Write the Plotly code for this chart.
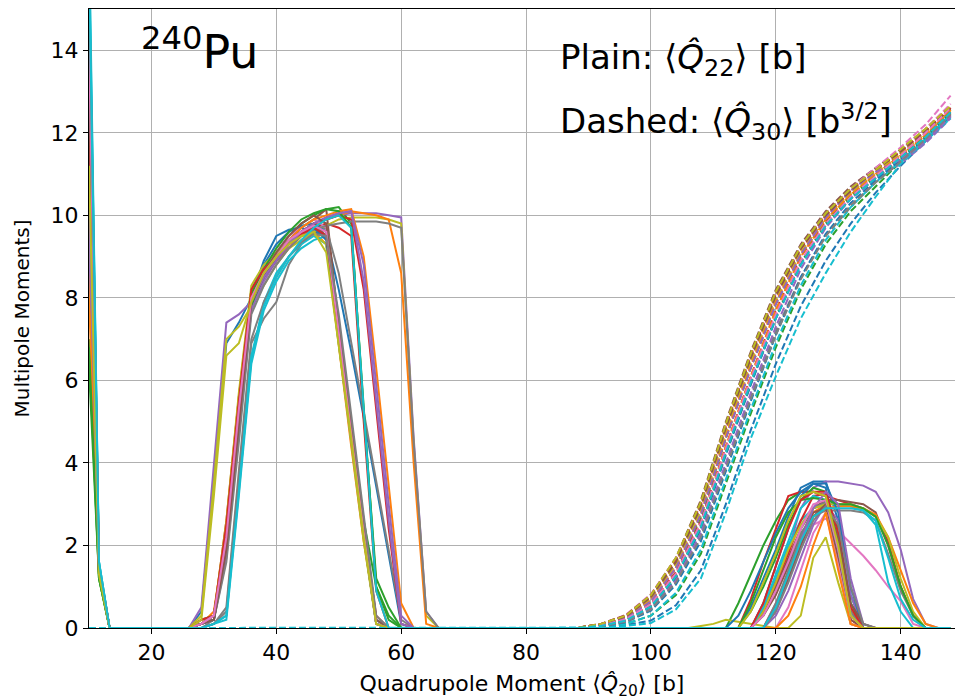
import plotly.graph_objects as go

# matplotlib "tab10" colour cycle
TAB10 = ["#1f77b4", "#ff7f0e", "#2ca02c", "#d62728", "#9467bd",
         "#8c564b", "#e377c2", "#7f7f7f", "#bcbd22", "#17becf"]

# Q20 grids [b]
Q20_EDGE = [10.0, 11.6, 13.3]
Q20_HUMP1 = [26, 28, 30, 32, 34, 36, 38, 40, 42, 44, 46, 48, 50, 52, 54, 56, 58, 60, 62, 64, 66]
Q20_HUMP2 = [106, 108, 110, 112, 114, 116, 118, 120, 122, 124, 126, 128, 130, 132, 134, 136,
             138, 140, 142, 144, 146, 148]
Q20_OCT = [10, 88, 92, 96, 100, 104, 108, 112, 116, 120, 124, 128, 132, 136, 140, 144, 148]

# <Q22> [b] near the spherical end (Q20 = 10, 11.6, 13.3)
Q22_EDGE = [
    [16.0, 1.4, 0], [8.5, 1.3, 0], [6.3, 1.2, 0], [12.0, 1.5, 0], [10.0, 1.4, 0],
    [14.0, 1.4, 0], [13.0, 1.5, 0], [15.5, 1.5, 0], [11.0, 1.3, 0], [17.0, 1.6, 0],
    [13.5, 1.4, 0], [9.0, 1.3, 0], [7.0, 1.2, 0], [11.5, 1.4, 0], [9.5, 1.4, 0],
    [12.5, 1.4, 0], [14.5, 1.5, 0], [15.0, 1.5, 0], [10.5, 1.3, 0], [16.5, 1.6, 0],
    [14.0, 1.4, 0], [8.0, 1.3, 0], [6.8, 1.2, 0], [12.8, 1.5, 0], [10.2, 1.4, 0],
    [13.2, 1.4, 0], [14.2, 1.5, 0], [15.8, 1.5, 0], [11.2, 1.3, 0], [16.2, 1.6, 0],
]

# <Q22> [b] over the first barrier region (Q20 = 26 ... 66)
Q22_HUMP1 = [
    [0, 0.4, 3.6, 6.9, 7.4, 8.0, 8.9, 9.5, 9.65, 9.7, 9.6, 9.5, 8.2, 6.7, 5.1, 3.4, 1.7, 0.1, 0, 0, 0],
    [0, 0.1, 0.4, 2.4, 5.4, 8.1, 8.6, 9.0, 9.3, 9.5, 9.6, 9.3, 6.8, 4.4, 2.1, 0.2, 0, 0, 0, 0, 0],
    [0, 0.2, 0.3, 2.2, 5.1, 8.0, 8.7, 9.1, 9.5, 9.8, 10.0, 10.15, 10.2, 9.8, 5.2, 1.2, 0.5, 0, 0, 0, 0],
    [0, 0.1, 0.3, 2.6, 5.6, 8.1, 8.6, 8.9, 9.2, 9.5, 9.7, 9.8, 9.7, 9.5, 5.0, 0.9, 0, 0, 0, 0, 0],
    [0, 0.5, 4.0, 7.4, 7.6, 7.9, 8.5, 8.9, 9.3, 9.6, 9.8, 9.9, 10.0, 10.05, 10.05, 10.05, 10.0, 9.95, 4.6, 0.4, 0],
    [0, 0.1, 0.2, 1.8, 4.8, 7.8, 8.5, 9.0, 9.4, 9.7, 9.9, 10.15, 7.3, 4.8, 2.4, 0.1, 0, 0, 0, 0, 0],
    [0, 0.1, 0.3, 2.1, 5.2, 8.0, 8.6, 9.1, 9.4, 9.6, 9.8, 9.6, 7.0, 4.6, 2.2, 0.1, 0, 0, 0, 0, 0],
    [0, 0, 0.1, 0.4, 3.6, 6.9, 7.5, 7.9, 8.8, 9.3, 9.6, 9.7, 8.6, 6.9, 5.3, 3.6, 1.9, 0.2, 0, 0, 0],
    [0, 0.3, 3.5, 7.0, 7.3, 7.8, 8.3, 8.8, 9.2, 9.4, 9.6, 9.75, 9.9, 9.95, 9.95, 9.95, 9.9, 9.8, 4.4, 0.3, 0],
    [0, 0, 0.1, 0.3, 3.4, 6.5, 7.9, 8.6, 9.0, 9.3, 9.5, 9.3, 6.9, 4.5, 2.2, 0.1, 0, 0, 0, 0, 0],
    [0, 0.1, 0.2, 2.3, 5.5, 8.2, 8.8, 9.3, 9.6, 9.75, 9.8, 9.6, 7.2, 4.8, 2.4, 0.2, 0, 0, 0, 0, 0],
    [0, 0.1, 0.3, 2.5, 5.6, 8.2, 8.6, 9.0, 9.3, 9.6, 9.8, 9.9, 10.0, 10.1, 10.05, 10.0, 9.9, 8.6, 4.0, 0.1, 0],
    [0, 0.1, 0.2, 1.9, 4.9, 7.8, 8.5, 9.0, 9.4, 9.7, 9.9, 9.7, 7.4, 5.0, 2.6, 1.0, 0.3, 0, 0, 0, 0],
    [0, 0.1, 0.3, 2.2, 5.2, 8.0, 8.6, 9.0, 9.3, 9.6, 9.8, 9.9, 10.0, 9.9, 8.2, 5.3, 2.4, 0.1, 0, 0, 0],
    [0, 0.1, 0.2, 1.7, 4.7, 7.7, 8.4, 8.9, 9.3, 9.6, 9.8, 9.95, 10.05, 10.1, 8.4, 5.5, 2.6, 0.1, 0, 0, 0],
    [0, 0.1, 0.2, 2.0, 5.0, 7.9, 8.5, 8.9, 9.3, 9.6, 9.8, 9.5, 7.0, 4.6, 2.2, 0.1, 0, 0, 0, 0, 0],
    [0, 0.1, 0.3, 2.4, 5.4, 8.1, 8.7, 9.1, 9.5, 9.7, 9.9, 9.7, 7.3, 4.9, 2.5, 0.2, 0, 0, 0, 0, 0],
    [0, 0, 0.2, 1.6, 4.5, 7.6, 8.3, 8.8, 9.2, 9.5, 9.65, 9.75, 9.8, 9.85, 9.85, 9.85, 9.8, 9.7, 4.5, 0.4, 0],
    [0, 0.1, 0.3, 2.6, 5.7, 8.3, 8.8, 9.1, 9.35, 9.5, 9.55, 9.3, 6.9, 4.5, 2.1, 0.1, 0, 0, 0, 0, 0],
    [0, 0, 0.1, 0.2, 3.2, 6.4, 7.7, 8.4, 8.9, 9.2, 9.4, 9.5, 7.4, 4.9, 2.5, 0.2, 0, 0, 0, 0, 0],
    [0, 0.1, 0.2, 2.1, 5.2, 8.0, 8.6, 9.0, 9.4, 9.6, 9.7, 9.4, 7.0, 4.6, 2.3, 0.1, 0, 0, 0, 0, 0],
    [0, 0.1, 0.3, 2.3, 5.3, 8.1, 8.6, 9.0, 9.4, 9.7, 9.9, 10.0, 10.1, 10.15, 9.0, 6.3, 3.4, 0.6, 0, 0, 0],
    [0, 0.1, 0.3, 2.4, 5.4, 8.1, 8.7, 9.2, 9.6, 9.9, 10.05, 10.15, 10.1, 9.7, 5.4, 1.0, 0.2, 0, 0, 0, 0],
    [0, 0.2, 0.3, 2.5, 5.5, 8.2, 8.7, 9.0, 9.3, 9.55, 9.7, 9.5, 7.2, 4.8, 2.4, 0.3, 0, 0, 0, 0, 0],
    [0, 0.1, 0.3, 2.0, 5.0, 7.9, 8.5, 8.9, 9.3, 9.6, 9.8, 9.95, 10.05, 10.1, 8.8, 5.9, 3.0, 0.3, 0, 0, 0],
    [0, 0.1, 0.2, 1.9, 4.9, 7.9, 8.6, 9.1, 9.5, 9.8, 10.0, 9.8, 7.4, 5.0, 2.6, 0.2, 0, 0, 0, 0, 0],
    [0, 0.1, 0.3, 2.2, 5.3, 8.0, 8.6, 9.0, 9.4, 9.6, 9.75, 9.6, 7.1, 4.7, 2.3, 0.1, 0, 0, 0, 0, 0],
    [0, 0, 0.1, 0.5, 3.8, 7.0, 7.9, 8.5, 9.0, 9.35, 9.55, 9.5, 7.6, 5.2, 2.8, 0.3, 0, 0, 0, 0, 0],
    [0, 0.2, 3.2, 6.6, 6.9, 7.9, 8.6, 9.0, 9.3, 9.5, 9.6, 9.1, 6.9, 4.6, 2.2, 0.1, 0, 0, 0, 0, 0],
    [0, 0, 0.1, 0.3, 3.3, 6.6, 7.8, 8.5, 9.0, 9.4, 9.7, 9.9, 10.0, 9.7, 5.3, 0.9, 0, 0, 0, 0, 0],
]

# <Q22> [b] around the second barrier (Q20 = 106 ... 148)
Q22_HUMP2 = [
    [0, 0, 0, 0, 0, 0.5, 1.2, 1.9, 2.7, 3.4, 3.55, 3.55, 2.6, 0.8, 0, 0, 0, 0, 0, 0, 0, 0],
    [0, 0, 0, 0, 0, 0, 0, 0.5, 1.2, 2.0, 2.8, 3.0, 1.6, 0.1, 0, 0, 0, 0, 0, 0, 0, 0],
    [0, 0, 0, 0, 0.6, 1.3, 2.0, 2.6, 3.1, 3.3, 3.3, 3.2, 2.4, 0.6, 0, 0, 0, 0, 0, 0, 0, 0],
    [0, 0, 0, 0, 0, 0.7, 1.6, 2.4, 3.2, 3.3, 3.3, 3.2, 3.1, 3.0, 2.9, 2.7, 2.1, 1.0, 0.3, 0, 0, 0],
    [0, 0, 0, 0, 0, 0, 0.4, 1.0, 1.9, 2.9, 3.4, 3.55, 3.55, 3.5, 3.45, 3.3, 2.8, 1.9, 0.7, 0.1, 0, 0],
    [0, 0, 0, 0, 0, 0, 0.4, 1.0, 1.7, 2.4, 2.9, 3.1, 3.1, 3.05, 3.0, 2.8, 2.0, 1.0, 0.3, 0, 0, 0],
    [0, 0, 0, 0, 0, 0, 0, 0.6, 1.3, 2.0, 2.5, 2.65, 2.35, 2.05, 1.75, 1.4, 1.0, 0.65, 0.1, 0, 0, 0],
    [0, 0, 0, 0, 0, 0, 0.3, 0.9, 1.6, 2.3, 2.7, 2.85, 2.85, 2.85, 2.8, 2.6, 1.8, 0.9, 0.3, 0, 0, 0],
    [0, 0.05, 0.1, 0.2, 0.15, 0.1, 0.05, 0, 0, 0.3, 1.7, 2.2, 1.1, 0.1, 0, 0, 0, 0, 0, 0, 0, 0],
    [0, 0, 0, 0, 0, 0, 0.5, 1.2, 2.0, 2.6, 2.9, 3.0, 3.0, 2.95, 2.85, 2.5, 1.1, 0.4, 0, 0, 0, 0],
    [0, 0, 0, 0, 0, 0, 0.6, 1.5, 2.4, 3.2, 3.5, 3.4, 2.0, 0.3, 0, 0, 0, 0, 0, 0, 0, 0],
    [0, 0, 0, 0, 0, 0, 0, 0.5, 1.3, 2.1, 2.7, 2.9, 2.95, 2.95, 2.9, 2.75, 2.2, 1.4, 0.6, 0.1, 0, 0],
    [0, 0, 0, 0, 0, 0.4, 1.0, 1.7, 2.5, 3.1, 3.4, 3.3, 2.1, 0.4, 0, 0, 0, 0, 0, 0, 0, 0],
    [0, 0, 0, 0, 0, 0, 0.4, 1.1, 1.8, 2.6, 3.2, 3.25, 1.8, 0.2, 0, 0, 0, 0, 0, 0, 0, 0],
    [0, 0, 0, 0, 0, 0, 0, 0.3, 0.9, 1.7, 2.5, 3.0, 2.6, 0.8, 0, 0, 0, 0, 0, 0, 0, 0],
    [0, 0, 0, 0, 0, 0, 0.3, 0.8, 1.5, 2.2, 2.8, 2.9, 1.7, 0.2, 0, 0, 0, 0, 0, 0, 0, 0],
    [0, 0, 0, 0, 0, 0, 0, 0, 0.5, 1.4, 2.3, 2.8, 1.5, 0.1, 0, 0, 0, 0, 0, 0, 0, 0],
    [0, 0, 0, 0, 0, 0, 0, 0.6, 1.4, 2.2, 2.9, 3.05, 2.0, 0.4, 0, 0, 0, 0, 0, 0, 0, 0],
    [0, 0, 0, 0, 0, 0, 0.4, 1.1, 1.9, 2.5, 2.9, 3.0, 3.0, 3.0, 2.9, 2.7, 2.2, 1.2, 0.4, 0, 0, 0],
    [0, 0, 0, 0, 0, 0, 0.5, 1.3, 2.1, 2.9, 3.2, 3.1, 1.9, 0.3, 0, 0, 0, 0, 0, 0, 0, 0],
    [0, 0, 0, 0, 0.3, 0.9, 1.6, 2.3, 2.9, 3.3, 3.5, 3.5, 2.8, 1.0, 0, 0, 0, 0, 0, 0, 0, 0],
    [0, 0, 0, 0, 0, 0, 0, 0, 0.3, 1.0, 2.0, 2.8, 1.4, 0.1, 0, 0, 0, 0, 0, 0, 0, 0],
    [0, 0, 0, 0, 0, 0.6, 1.4, 2.2, 2.8, 3.1, 3.15, 3.1, 3.0, 3.0, 2.9, 2.7, 2.0, 1.0, 0.3, 0, 0, 0],
    [0, 0, 0, 0, 0, 0, 0.6, 1.5, 2.4, 3.1, 3.3, 3.3, 2.3, 0.5, 0, 0, 0, 0, 0, 0, 0, 0],
    [0, 0, 0, 0, 0, 0, 0, 0.4, 1.2, 2.1, 2.9, 3.3, 3.0, 1.2, 0.1, 0, 0, 0, 0, 0, 0, 0],
    [0, 0, 0, 0, 0, 0, 0, 0.5, 1.2, 2.0, 2.7, 3.0, 2.2, 0.6, 0.1, 0, 0, 0, 0, 0, 0, 0],
    [0, 0, 0, 0, 0, 0, 0.3, 0.9, 1.6, 2.4, 3.0, 3.1, 1.9, 0.3, 0, 0, 0, 0, 0, 0, 0, 0],
    [0, 0, 0, 0, 0, 0, 0, 0.4, 1.1, 1.9, 2.6, 2.95, 2.5, 1.0, 0.1, 0, 0, 0, 0, 0, 0, 0],
    [0, 0, 0, 0, 0, 0.4, 1.1, 1.8, 2.6, 3.2, 3.3, 3.2, 2.0, 0.3, 0, 0, 0, 0, 0, 0, 0, 0],
    [0, 0, 0, 0, 0, 0, 0, 0.5, 1.3, 2.1, 2.7, 2.9, 2.9, 2.9, 2.85, 2.6, 1.7, 0.7, 0.2, 0, 0, 0],
]

# <Q30> [b^3/2] (Q20 = 10, 88 ... 148)
Q30_VALUES = [
    [0, 0, 0.02, 0.07, 0.18, 0.55, 1.4, 3.0, 4.8, 6.4, 7.8, 8.9, 9.8, 10.55, 11.2, 11.8, 12.4],
    [0, 0, 0.08, 0.25, 0.7, 1.5, 2.8, 4.6, 6.4, 7.9, 9.1, 9.95, 10.55, 11.0, 11.45, 11.95, 12.55],
    [0, 0, 0.03, 0.1, 0.3, 0.8, 1.8, 3.5, 5.2, 6.8, 8.2, 9.3, 10.1, 10.7, 11.3, 11.85, 12.45],
    [0, 0, 0.06, 0.22, 0.6, 1.35, 2.6, 4.4, 6.1, 7.7, 9.0, 9.85, 10.45, 10.95, 11.4, 11.9, 12.5],
    [0, 0, 0.05, 0.2, 0.55, 1.25, 2.4, 4.2, 5.9, 7.5, 8.85, 9.8, 10.45, 10.9, 11.25, 11.75, 12.35],
    [0, 0, 0.1, 0.3, 0.8, 1.7, 3.1, 5.0, 6.7, 8.2, 9.3, 10.1, 10.7, 11.15, 11.6, 12.1, 12.65],
    [0, 0, 0.1, 0.32, 0.82, 1.7, 3.0, 4.9, 6.6, 8.1, 9.25, 10.05, 10.65, 11.15, 11.65, 12.2, 12.9],
    [0, 0, 0.04, 0.15, 0.45, 1.1, 2.2, 3.9, 5.6, 7.2, 8.5, 9.5, 10.2, 10.8, 11.3, 11.85, 12.45],
    [0, 0, 0.09, 0.28, 0.75, 1.6, 3.0, 4.9, 6.6, 8.1, 9.2, 10.0, 10.6, 11.1, 11.55, 12.05, 12.6],
    [0, 0, 0.01, 0.05, 0.12, 0.45, 1.2, 2.8, 4.6, 6.1, 7.5, 8.6, 9.6, 10.45, 11.25, 11.8, 12.35],
    [0, 0, 0.05, 0.18, 0.5, 1.2, 2.4, 4.2, 5.9, 7.5, 8.8, 9.75, 10.4, 10.9, 11.4, 11.9, 12.5],
    [0, 0, 0.06, 0.2, 0.58, 1.3, 2.5, 4.4, 6.1, 7.7, 9.0, 9.9, 10.5, 11.0, 11.45, 11.95, 12.55],
    [0, 0, 0.07, 0.24, 0.65, 1.45, 2.7, 4.6, 6.3, 7.85, 9.05, 9.9, 10.5, 11.0, 11.5, 12.0, 12.6],
    [0, 0, 0.08, 0.26, 0.72, 1.55, 2.9, 4.8, 6.5, 8.0, 9.15, 10.0, 10.6, 11.05, 11.5, 12.0, 12.6],
    [0, 0, 0.04, 0.16, 0.48, 1.15, 2.3, 4.0, 5.7, 7.3, 8.7, 9.7, 10.4, 10.9, 11.3, 11.8, 12.4],
    [0, 0, 0.1, 0.31, 0.8, 1.68, 3.05, 4.95, 6.65, 8.15, 9.25, 10.05, 10.65, 11.1, 11.55, 12.05, 12.6],
    [0, 0, 0.08, 0.27, 0.7, 1.5, 2.8, 4.7, 6.4, 7.95, 9.1, 9.95, 10.55, 11.05, 11.55, 12.1, 12.7],
    [0, 0, 0.05, 0.2, 0.55, 1.3, 2.5, 4.3, 6.0, 7.55, 8.85, 9.75, 10.4, 10.9, 11.35, 11.85, 12.45],
    [0, 0, 0.08, 0.26, 0.72, 1.55, 2.85, 4.75, 6.45, 7.95, 9.1, 9.95, 10.55, 11.05, 11.5, 12.0, 12.55],
    [0, 0, 0.03, 0.1, 0.3, 0.85, 1.9, 3.6, 5.3, 6.9, 8.3, 9.4, 10.2, 10.8, 11.3, 11.85, 12.45],
    [0, 0, 0.04, 0.14, 0.42, 1.05, 2.1, 3.8, 5.5, 7.1, 8.5, 9.55, 10.3, 10.85, 11.35, 11.9, 12.5],
    [0, 0, 0.07, 0.24, 0.66, 1.45, 2.75, 4.65, 6.35, 7.9, 9.05, 9.9, 10.5, 11.0, 11.45, 11.95, 12.55],
    [0, 0, 0.05, 0.19, 0.52, 1.25, 2.45, 4.25, 5.95, 7.55, 8.85, 9.8, 10.45, 10.95, 11.4, 11.9, 12.5],
    [0, 0, 0.09, 0.3, 0.78, 1.65, 3.0, 4.9, 6.6, 8.1, 9.2, 10.0, 10.6, 11.1, 11.55, 12.05, 12.6],
    [0, 0, 0.07, 0.23, 0.65, 1.45, 2.75, 4.6, 6.3, 7.85, 9.05, 9.95, 10.6, 11.05, 11.35, 11.8, 12.4],
    [0, 0, 0.09, 0.28, 0.75, 1.6, 2.95, 4.85, 6.55, 8.05, 9.2, 10.0, 10.6, 11.1, 11.55, 12.05, 12.6],
    [0, 0, 0.06, 0.21, 0.58, 1.32, 2.55, 4.35, 6.05, 7.6, 8.9, 9.8, 10.45, 10.95, 11.45, 12.0, 12.6],
    [0, 0, 0.04, 0.15, 0.45, 1.1, 2.2, 3.85, 5.55, 7.1, 8.45, 9.5, 10.25, 10.8, 11.3, 11.85, 12.45],
    [0, 0, 0.1, 0.3, 0.8, 1.7, 3.05, 4.95, 6.65, 8.15, 9.25, 10.05, 10.65, 11.1, 11.6, 12.1, 12.65],
    [0, 0, 0.05, 0.18, 0.52, 1.25, 2.45, 4.25, 5.95, 7.5, 8.8, 9.75, 10.4, 10.9, 11.4, 11.9, 12.5],
]

FONT = "DejaVu Sans"

fig = go.Figure()
q22_x = Q20_EDGE + Q20_HUMP1 + Q20_HUMP2
for i in range(len(Q22_HUMP1)):
    color = TAB10[i % len(TAB10)]
    fig.add_trace(go.Scatter(
        x=q22_x, y=Q22_EDGE[i] + Q22_HUMP1[i] + Q22_HUMP2[i],
        mode="lines", line=dict(color=color, width=2), hoverinfo="skip"))
    fig.add_trace(go.Scatter(
        x=Q20_OCT, y=Q30_VALUES[i],
        mode="lines", line=dict(color=color, width=2, dash="7px,3px"), hoverinfo="skip"))

axis_common = dict(
    showgrid=True, gridcolor="#b0b0b0", gridwidth=1, zeroline=False,
    showline=True, linecolor="black", linewidth=1,
    ticks="outside", ticklen=5, tickwidth=1, tickcolor="black",
    tickfont=dict(family=FONT, size=22, color="black"),
)

fig.update_layout(
    width=955, height=700,
    margin=dict(l=89, r=0, t=9, b=72),
    paper_bgcolor="white", plot_bgcolor="white",
    showlegend=False,
    font=dict(family=FONT, color="black"),
    xaxis=dict(
        range=[10, 148.7], tickvals=[20, 40, 60, 80, 100, 120, 140], mirror=True,
        title=dict(text="Quadrupole Moment ⟨<i>Q̂</i><sub>20</sub>⟩ [b]",
                   font=dict(family=FONT, size=22, color="black"), standoff=13),
        **axis_common),
    yaxis=dict(
        range=[0, 15], tickvals=[0, 2, 4, 6, 8, 10, 12, 14],
        title=dict(text="Multipole Moments]",
                   font=dict(family=FONT, size=20, color="black"), standoff=15),
        **axis_common),
    annotations=[
        dict(text="<sup>240</sup>Pu", xref="paper", yref="paper", x=0.058, y=0.935,
             xanchor="left", yanchor="middle", showarrow=False,
             font=dict(family=FONT, size=46, color="black")),
        dict(text="Plain: ⟨<i>Q̂</i><sub>22</sub>⟩ [b]", xref="paper", yref="paper",
             x=0.541, y=0.919, xanchor="left", yanchor="middle", showarrow=False,
             font=dict(family=FONT, size=34, color="black")),
        dict(text="Dashed: ⟨<i>Q̂</i><sub>30</sub>⟩ [b<sup>3/2</sup>]", xref="paper", yref="paper",
             x=0.541, y=0.818, xanchor="left", yanchor="middle", showarrow=False,
             font=dict(family=FONT, size=34, color="black")),
    ],
)

fig.write_html("out.html")
